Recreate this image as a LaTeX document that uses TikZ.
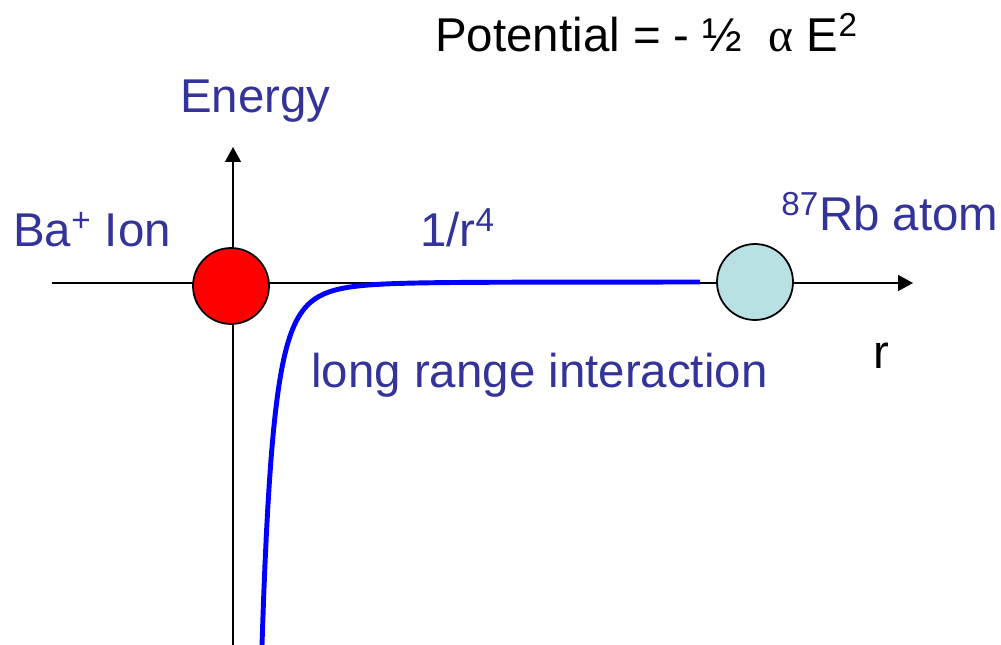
\documentclass[tikz,border=0pt]{standalone}
\usepackage{fontspec}
\setmainfont{Liberation Sans}
\newfontfamily\symfont{Liberation Serif}
\usepackage{xcolor}
\usepackage{tikz}
\usetikzlibrary{arrows.meta}
\definecolor{labelblue}{RGB}{51,51,153}
\definecolor{rbcyan}{RGB}{185,224,227}

\begin{document}
\begin{tikzpicture}[
  x=0.02cm, y=-0.02cm,
  axis/.style={line width=0.9pt, -{Triangle[length=0.3cm, width=0.32cm]}},
  partikel/.style={circle, draw, line width=1pt, inner sep=0pt, minimum size=1.52cm},
  etikett/.style={anchor=base west, inner sep=0pt, text=labelblue, font=\fontsize{27}{32}\selectfont},
  kurve/.style={blue, line width=2.8pt}
]
\useasboundingbox (0,0) rectangle (1001,645);
% axes
\coordinate (xanf) at (52,283);
\coordinate (xend) at (913,283);
\coordinate (yanf) at (233,645);
\coordinate (yend) at (233,147);
\draw[axis] (xanf) -- (xend);
\draw[axis] (yanf) -- (yend);
% potential curve
\draw[kurve] plot[domain=262:700, samples=300] (\x, {282+363/((\x-216)/46)^4});
% ion and atom
\node[partikel, fill=red] (ba) at (231,286) {};
\node[partikel, fill=rbcyan] (rb) at (755,282) {};
% labels
\node[etikett, text=black] (pot) at (435,52) {Potential = - ½ \ {\symfont α} E\textsuperscript{2}};
\node[etikett] (energy) at (180,113) {Energy};
\node[etikett] (balabel) at (13,247) {Ba\textsuperscript{+} Ion};
\node[etikett] (rvier) at (420,247) {1/r\textsuperscript{4}};
\node[etikett] (rblabel) at (781,231) {\textsuperscript{87}Rb atom};
\node[etikett] (lang) at (311,387) {long range interaction};
\node[etikett, text=black] (rachse) at (873,368) {r};
\end{tikzpicture}
\end{document}
